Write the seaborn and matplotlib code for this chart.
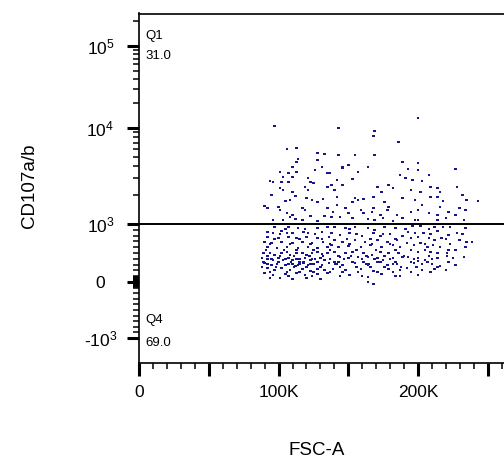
import numpy as np
import pandas as pd
import matplotlib
matplotlib.use("Agg")
import matplotlib.pyplot as plt
import seaborn as sns
from matplotlib.ticker import FixedLocator, FixedFormatter

# ---- events (FSC-A in thousands, CD107a/b in raw units) ----
fsc_a = [
    200, 97, 143, 169, 168, 186, 113, 106,
    128, 133, 143, 155, 169, 114, 113, 128, 189, 200,
    150, 110, 131, 146, 164, 146, 126, 193, 200, 227,
    101, 107, 113, 135, 137, 157, 187, 208,
    103, 110, 121, 94, 96, 102, 107, 123, 125, 142, 153, 191, 196, 203,
    119, 135, 101, 103, 121, 110, 138, 146, 179, 140,
    171, 182, 174, 209, 214, 228, 216, 195, 202,
    95, 112, 120, 124, 132, 105, 108, 128, 142, 155, 157, 161,
    168, 189, 153, 176, 209, 214, 232, 235, 243, 198, 218,
    90, 92, 100, 101, 117, 119, 135, 142, 179,
    168, 148, 159, 178, 216, 203, 200, 230, 234,
    106, 110, 108, 123, 133, 139, 150, 161, 167, 185,
    173, 138, 144, 195, 208, 214, 222, 227, 220,
    96, 103, 112, 117, 128, 153, 164, 169,
    175, 182, 189, 233, 198, 200, 214,
    97, 107, 114, 128, 135, 140, 148, 155, 164,
    169, 176, 184, 196, 202, 212, 218, 223, 234,
    92, 96, 102, 106, 110, 118, 121, 131, 138, 144, 151,
    160, 168, 173, 180, 189, 193, 198, 204, 214, 222, 228,
    92, 100, 107, 113, 120, 128, 136, 90, 95, 102, 110,
    117, 124, 132, 140, 146, 155, 162, 171, 178, 185,
    195, 200, 208, 212, 217, 230, 235, 239, 192, 202,
    92, 99, 106, 114, 121, 128, 135, 138, 143, 150, 159,
    166, 174, 182, 187, 197, 207, 211, 216, 222, 234, 195,
    89, 94, 97, 102, 106, 108, 113, 117, 120, 124, 128, 131, 135,
    140, 148, 153, 161, 167, 173, 179, 186, 200, 209, 214, 221,
    88, 92, 96, 100, 103, 107, 110, 115, 119, 123, 126, 130, 133, 144,
    150, 157, 164, 171, 175, 182, 189, 193, 200, 205, 214, 225, 233, 200,
    90, 95, 99, 105, 110, 112, 114, 118, 121, 125, 131, 136,
    142, 146, 155, 164, 173, 178, 185, 197, 210, 216, 227,
    92, 97, 102, 108, 117, 123, 128, 133, 139,
    148, 159, 168, 179, 187, 192, 203, 212, 220,
    90, 96, 105, 113, 119, 128, 135, 94, 101,
    110, 120, 130, 151, 164, 174, 184, 200, 164, 168,
]
cd107ab = [
    13240, 10580, 10000, 9310, 8250, 7140, 6190, 6040,
    5490, 5360, 5230, 5230, 5230, 4750, 4420, 4640, 4420, 4320,
    4120, 3920, 3920, 3920, 3920, 3830, 3650, 3740, 3650, 3740,
    3480, 3400, 3480, 3400, 3400, 3480, 3240, 3240,
    3090, 3090, 3010, 2800, 2740, 2740, 2740, 2740, 2670, 2870, 2940, 3010, 2870, 2800,
    2430, 2430, 2370, 2260, 2260, 2150, 2550, 2550, 2550, 2260,
    2430, 2370, 2150, 2430, 2370, 2430, 2150, 2260, 2150,
    2000, 1960, 1870, 1780, 1820, 1740, 1780, 1700, 1910, 1870, 1780, 1820,
    1910, 1870, 1700, 1700, 1910, 1910, 2000, 1780, 1740, 1780, 1740,
    1540, 1470, 1500, 1400, 1470, 1400, 1470, 1580, 1500,
    1470, 1470, 1400, 1400, 1500, 1580, 1400, 1470, 1400,
    1300, 1240, 1180, 1210, 1210, 1330, 1300, 1300, 1330, 1240,
    1240, 1180, 1180, 1330, 1300, 1240, 1330, 1240, 1160,
    1100, 1100, 1130, 1100, 1080, 1160, 1130, 1100,
    1160, 1080, 1160, 1100, 1100, 1100, 1100,
    948, 948, 931, 931, 948, 948, 931, 948, 931,
    897, 948, 931, 965, 965, 948, 948, 948, 931,
    862, 845, 879, 845, 845, 862, 845, 862, 845, 810, 845,
    793, 845, 793, 828, 793, 862, 845, 845, 879, 810, 845,
    776, 759, 776, 759, 776, 759, 776, 690, 672, 690, 672,
    690, 672, 690, 724, 690, 724, 690, 724, 690, 724,
    759, 776, 759, 724, 759, 724, 690, 690, 672, 672,
    603, 586, 603, 586, 603, 586, 603, 638, 603, 621, 603,
    638, 603, 638, 603, 638, 603, 638, 603, 552, 603, 552,
    500, 500, 465, 500, 517, 465, 500, 500, 465, 500, 517, 483, 500,
    517, 500, 517, 500, 465, 517, 500, 500, 517, 517, 500, 500,
    414, 397, 379, 414, 379, 414, 379, 397, 414, 379, 397, 414, 379, 431,
    414, 431, 431, 414, 379, 414, 431, 431, 414, 379, 414, 414, 431, 362,
    328, 293, 310, 293, 310, 276, 293, 328, 293, 310, 293, 328,
    310, 293, 328, 293, 345, 293, 310, 328, 310, 276, 293,
    241, 207, 241, 207, 224, 190, 224, 207, 224,
    207, 224, 190, 224, 207, 241, 207, 224, 207,
    155, 121, 138, 155, 121, 138, 155, 69, 69,
    52, 69, 52, 121, 86, 138, 103, 121, 0, -36,
]

# denser low-CD107 events, grouped by CD107a/b level
dense_levels = [552, 448, 397, 345, 310, 259, 172, 655, 741, 828, 103, 914]
dense_fsc = [
    [91, 104, 113, 125, 137, 156, 170, 184, 205, 227],
    [92, 101, 111, 122, 132, 143, 152, 163, 176, 190, 208, 221],
    [95, 105, 113, 124, 137, 147, 160, 169, 180, 197, 210],
    [89, 100, 109, 115, 118, 128, 140, 143, 153, 161, 171, 173, 184, 195, 207, 222],
    [92, 107, 115, 123, 141, 163, 165, 182, 203],
    [88, 98, 111, 120, 130, 144, 156, 166, 176, 188, 199, 214],
    [94, 106, 115, 125, 137, 146, 157, 171, 182, 195, 209],
    [94, 108, 123, 137, 151, 167, 180, 205, 223],
    [97, 115, 131, 149, 166, 184, 220],
    [101, 126, 156, 175, 209, 232],
    [107, 124, 144, 160, 187],
    [105, 119, 151, 191, 208],
]

gate_value = 1000
quadrant_names = ["Q1", "Q4"]
quadrant_pcts = ["31.0", "69.0"]

y_major = [-1000, 0, 1000, 10000, 100000]
y_major_labels = ["-$\\mathregular{10^{3}}$", "0", "$\\mathregular{10^{3}}$",
                  "$\\mathregular{10^{4}}$", "$\\mathregular{10^{5}}$"]
x_major = [0, 50000, 100000, 150000, 200000, 250000]
x_major_labels = ["0", "", "100K", "", "200K", ""]


# ---- biexponential-style display transform (linear near zero, log above) ----
def biex_forward(v):
    v = np.asarray(v, dtype=float)
    shape = v.shape
    v = np.atleast_1d(v).ravel()
    out = np.empty_like(v)
    pos = (v >= 0) & (v <= 1e3)
    neg = (v < 0) & (v >= -1e3)
    hi = v > 1e3
    lo = v < -1e3
    out[pos] = 81.0 + v[pos] * 0.058
    out[neg] = 81.0 + v[neg] * 0.056
    lg = np.log10(v[hi])
    out[hi] = np.where(lg < 4, 139.0 + (lg - 3) * 96.0, 235.0 + (lg - 4) * 82.0)
    out[lo] = 25.0 - (np.log10(-v[lo]) - 3) * 82.0
    return out.reshape(shape)


def biex_inverse(d):
    d = np.asarray(d, dtype=float)
    shape = d.shape
    d = np.atleast_1d(d).ravel()
    out = np.empty_like(d)
    a = d >= 235.0
    b = (d >= 139.0) & (d < 235.0)
    c = (d >= 81.0) & (d < 139.0)
    e = (d >= 25.0) & (d < 81.0)
    f = d < 25.0
    out[a] = 10 ** (4 + (d[a] - 235.0) / 82.0)
    out[b] = 10 ** (3 + (d[b] - 139.0) / 96.0)
    out[c] = (d[c] - 81.0) / 0.058
    out[e] = (d[e] - 81.0) / 0.056
    out[f] = -(10 ** (3 + (25.0 - d[f]) / 82.0))
    return out.reshape(shape)


sns.set_theme(style="white")
plt.rcParams["font.family"] = ["Liberation Sans", "DejaVu Sans"]
plt.rcParams["mathtext.fontset"] = "custom"
plt.rcParams["mathtext.rm"] = "Liberation Sans"

dense_x = [x for xs in dense_fsc for x in xs]
dense_y = [lvl for lvl, xs in zip(dense_levels, dense_fsc) for _ in xs]

df = pd.DataFrame({
    "FSC-A": np.array(fsc_a + dense_x, dtype=float) * 1000,
    "CD107a/b": np.array(cd107ab + dense_y, dtype=float),
})

fig = plt.figure(figsize=(5.04, 4.59), dpi=100)
ax = fig.add_axes([139.3 / 504, 96 / 459, 365.2 / 504, 349.5 / 459])
ax.set_yscale("function", functions=(biex_forward, biex_inverse))

sns.scatterplot(data=df, x="FSC-A", y="CD107a/b", ax=ax, marker="s", s=3.2,
                color="#16168a", linewidth=0, edgecolor="none", legend=False)

ax.axhline(gate_value, color="black", lw=1.4, zorder=3)

ax.set_xlim(0, 262144)
ax.set_ylim(-2018, 249000)

# y ticks
y_minor = ([m * 10 for m in range(1, 10)] + [m * 100 for m in range(1, 10)]
           + [m * 1000 for m in range(2, 10)] + [m * 10000 for m in range(2, 10)]
           + [200000]
           + [-m * 10 for m in range(1, 10)] + [-m * 100 for m in range(1, 10)])
ax.yaxis.set_major_locator(FixedLocator(y_major))
ax.yaxis.set_major_formatter(FixedFormatter(y_major_labels))
ax.yaxis.set_minor_locator(FixedLocator(y_minor))

# x ticks
ax.xaxis.set_major_locator(FixedLocator(x_major))
ax.xaxis.set_major_formatter(FixedFormatter(x_major_labels))
ax.xaxis.set_minor_locator(FixedLocator([v for v in range(10000, 262144, 10000)
                                         if v % 50000 != 0]))

ax.tick_params(axis="both", which="both", bottom=True, left=True,
               top=False, right=False, direction="out", color="black")
ax.tick_params(axis="both", which="major", length=9, width=2.2,
               labelsize=12.5, labelcolor="black")
ax.tick_params(axis="both", which="minor", length=4.5, width=1.1)
ax.tick_params(axis="y", which="major", pad=19)
ax.tick_params(axis="x", which="major", pad=7)
for lab in ax.get_yticklabels():
    lab.set_horizontalalignment("center")

for side in ["left", "bottom", "top"]:
    ax.spines[side].set_color("black")
    ax.spines[side].set_linewidth(1.2)
ax.spines["right"].set_visible(False)

ax.set_xlabel("FSC-A", fontsize=13.5, color="black")
ax.set_ylabel("CD107a/b", fontsize=13.5, color="black")
ax.xaxis.set_label_coords(0.487, -0.225)
ax.yaxis.set_label_coords(-0.277, 0.506)

# quadrant annotations
ax.text(0.016, 0.927, quadrant_names[0], transform=ax.transAxes, fontsize=9.5,
        va="baseline", ha="left", color="black")
ax.text(0.016, 0.870, quadrant_pcts[0], transform=ax.transAxes, fontsize=9.5,
        va="baseline", ha="left", color="black")
ax.text(0.016, 0.114, quadrant_names[1], transform=ax.transAxes, fontsize=9.5,
        va="baseline", ha="left", color="black")
ax.text(0.016, 0.049, quadrant_pcts[1], transform=ax.transAxes, fontsize=9.5,
        va="baseline", ha="left", color="black")

fig.savefig("out.png", dpi=100)
